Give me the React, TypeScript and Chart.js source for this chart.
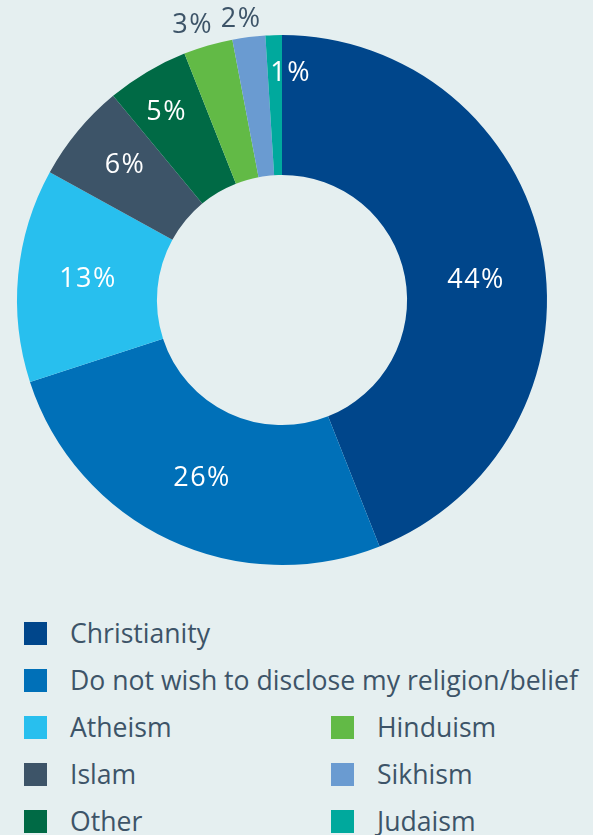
import React, { useEffect, useRef } from "react";
import { Chart, registerables } from "chart.js";
Chart.register(...registerables);

const categories = [
  "Christianity",
  "Do not wish to disclose my religion/belief",
  "Atheism",
  "Islam",
  "Other",
  "Hinduism",
  "Sikhism",
  "Judaism",
];
const percentages = [44, 26, 13, 6, 5, 3, 2, 1];
const colors = ["#00468b", "#0070b8", "#28bfee", "#3d5468", "#006a45", "#62ba46", "#6a9bd1", "#00a99d"];

const BG = "#e5eff0";
const TEXT = "#3d5468";
const FONT = "'Open Sans', sans-serif";

// label placement styling: radius as fraction of outer radius, angular shift in degrees, colour
const labelRadius = [0.736, 0.736, 0.736, 0.78, 0.83, 1.09, 1.07, 0.857];
const labelShift = [5, -1, 0.6, 1, -1, -1.8, -1.1, 4];
const labelColor = ["#fff", "#fff", "#fff", "#fff", "#fff", TEXT, TEXT, "#fff"];

const labelPlugin = {
  id: "sliceLabels",
  afterDatasetsDraw(chart: any) {
    const ctx = chart.ctx;
    const meta = chart.getDatasetMeta(0);
    ctx.save();
    ctx.font = `400 27px ${FONT}`;
    try {
      (ctx as any).letterSpacing = "1.5px";
    } catch (e) {}
    ctx.textAlign = "center";
    ctx.textBaseline = "middle";
    meta.data.forEach((arc: any, i: number) => {
      const p = arc.getProps(["x", "y", "startAngle", "endAngle", "outerRadius"], true);
      const a = (p.startAngle + p.endAngle) / 2 + (labelShift[i] * Math.PI) / 180;
      const r = p.outerRadius * labelRadius[i];
      ctx.fillStyle = labelColor[i];
      ctx.fillText(percentages[i] + "%", p.x + Math.cos(a) * r, p.y + Math.sin(a) * r);
    });
    ctx.restore();
  },
};

const legendRows: [number, number | null][] = [
  [0, null],
  [1, null],
  [2, 5],
  [3, 6],
  [4, 7],
];

function LegendItem({ i }: { i: number }) {
  return (
    <div style={{ display: "flex", alignItems: "center", height: 30 }}>
      <div style={{ width: 23, height: 23, background: colors[i], flex: "none" }} />
      <span style={{ marginLeft: 23, fontSize: 26.6, color: TEXT, fontFamily: FONT, whiteSpace: "nowrap" }}>
        {categories[i]}
      </span>
    </div>
  );
}

export default function App() {
  const ref = useRef<HTMLCanvasElement>(null);
  useEffect(() => {
    if (!ref.current) return;
    const chart = new Chart(ref.current, {
      type: "doughnut",
      data: {
        labels: categories,
        datasets: [
          {
            data: percentages,
            backgroundColor: colors,
            borderWidth: 0,
          },
        ],
      },
      options: {
        animation: false,
        responsive: false,
        cutout: "47.2%",
        layout: { padding: { left: 17, right: 46, top: 35, bottom: 35 } },
        plugins: { legend: { display: false }, tooltip: { enabled: false } },
      },
      plugins: [labelPlugin],
    });
    return () => chart.destroy();
  }, []);

  return (
    <div style={{ position: "fixed", left: 0, top: 0, width: 593, height: 835, background: BG, overflow: "hidden" }}>
      <canvas ref={ref} width={593} height={600} style={{ position: "absolute", left: 0, top: 0 }} />
      {legendRows.map(([a, b], row) => (
        <React.Fragment key={row}>
          <div style={{ position: "absolute", left: 24, top: 618 + row * 47 }}>
            <LegendItem i={a} />
          </div>
          {b !== null && (
            <div style={{ position: "absolute", left: 331, top: 618 + row * 47 }}>
              <LegendItem i={b} />
            </div>
          )}
        </React.Fragment>
      ))}
    </div>
  );
}
